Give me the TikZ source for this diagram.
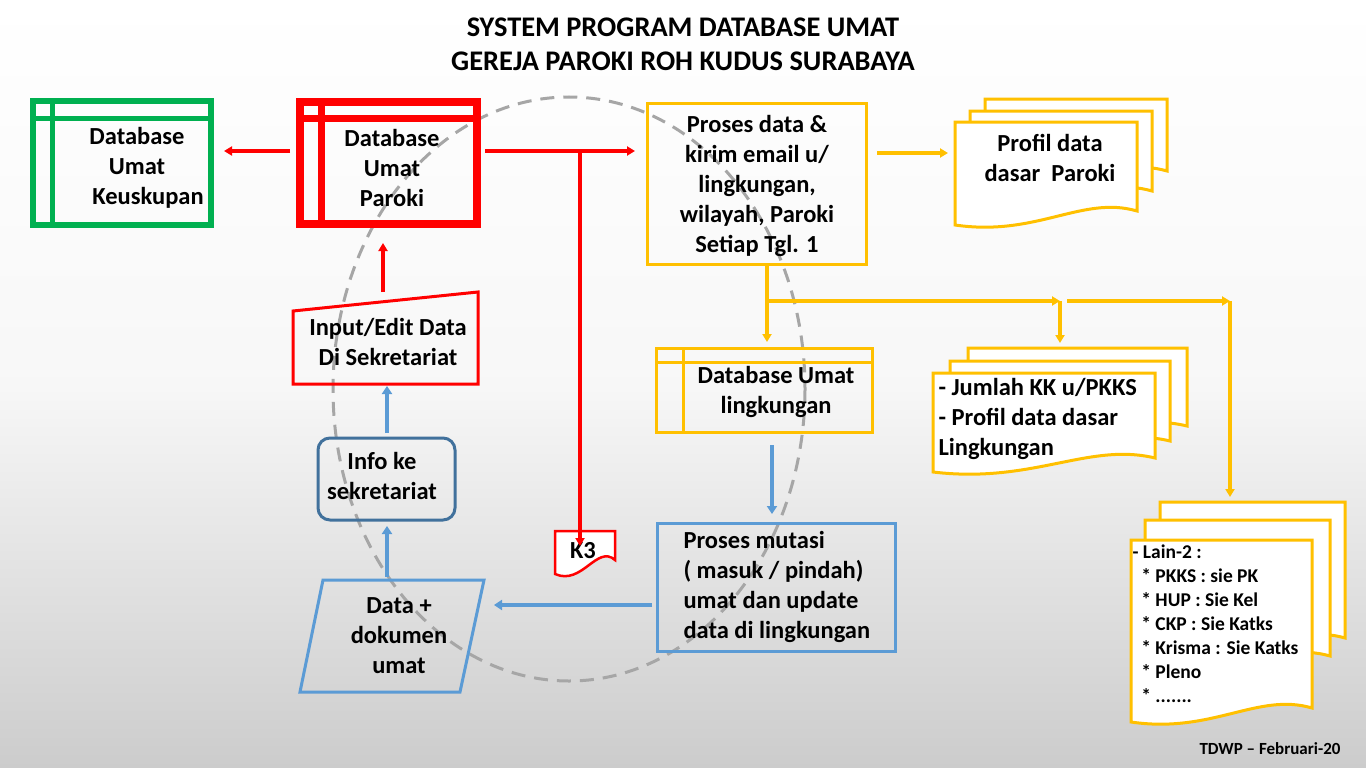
\documentclass[tikz,border=0pt]{standalone}
\usepackage{fontspec}
\setmainfont{Carlito}
\usetikzlibrary{arrows.meta}
\definecolor{cred}{HTML}{FF0000}
\definecolor{cgreen}{HTML}{00B050}
\definecolor{cyel}{HTML}{FFC000}
\definecolor{cblue}{HTML}{5B9BD5}
\definecolor{cdblue}{HTML}{41719C}
\newcommand\docpath[5]{\filldraw[#5,fill=white] ({#1},{#2}) -- ({#3},{#2}) -- ({#3},{#4-14}) .. controls ({#3-(#3-#1)*0.3},{#4-30}) and ({#1+(#3-#1)*0.45},{#4+12}) .. ({#1},{#4}) -- cycle;}
\begin{document}
\begin{tikzpicture}[x=1pt,y=-1pt,
 txt/.style={font=\bfseries\fontsize{24.5}{30}\selectfont,align=center,text=black},
 ltxt/.style={txt,align=left},
 rarr/.style={cred,line width=3.5pt,-{Triangle[length=8pt,width=9pt]}},
 yarr/.style={cyel,line width=3.5pt,-{Triangle[length=8pt,width=9pt]}},
 barr/.style={cblue,line width=4pt,-{Triangle[length=8pt,width=10pt]}},
 ybox/.style={cyel,line width=3pt},
 bbox/.style={line width=3pt}]
\useasboundingbox (0,0) rectangle (1366,768);
\begin{scope}[y=1pt]
\shade[top color=white,bottom color=white!80!black,middle color=white!97!black] (0,-768) rectangle (1366,0);
\end{scope}
\node[txt,font=\bfseries\fontsize{28.4}{34}\selectfont] (title) at (683,44) {SYSTEM PROGRAM DATABASE UMAT\\GEREJA PAROKI ROH KUDUS SURABAYA};
% dashed circle
\draw[gray!70,line width=3pt,dash pattern=on 14pt off 9pt] (569,389) ellipse [x radius=236,y radius=292];
% green
\draw[cgreen,line width=6pt] (33,101) rectangle (211,225);
\draw[cgreen,line width=5pt] (52,101) -- (52,225) (33,118) -- (211,118);
\node[txt] (keus) at (137,168) {Database\\Umat\\\hspace*{0.9em}Keuskupan};
% red
\draw[cred,line width=8pt] (300,102) rectangle (477,224);
\draw[cred,line width=7pt] (321,102) -- (321,224) (300,118) -- (477,118);
\node[txt] (paroki) at (392,168) {Database\\Umat\\Paroki};
% yellow proses
\draw[ybox] (647,103) rectangle (866,264);
\node[txt] (proses) at (757,186) {Proses data \&\\kirim email u/\\lingkungan,\\wilayah, Paroki\\Setiap Tgl. 1};
% profil multi doc
\docpath{985}{99}{1167}{185}{ybox}
\docpath{970}{111}{1152}{205}{ybox}
\docpath{955}{122}{1137}{225}{ybox}
\node[txt] (profil) at (1050,158) {Profil data\\dasar\ \ Paroki};
% database lingkungan
\draw[ybox] (656,348) rectangle (872,432);
\draw[ybox] (683,348) -- (683,432) (656,362) -- (872,362);
\node[txt] (dbl) at (776,392) {Database Umat\\lingkungan};
% KK multi doc
\docpath{968}{348}{1187}{440}{ybox}
\docpath{950}{361}{1170}{455}{ybox}
\docpath{933}{373}{1155}{472}{ybox}
\node[ltxt,anchor=west] (kk) at (935,419) {- Jumlah KK u/PKKS\\- Profil data dasar\\Lingkungan};
% lain-2 multi doc
\docpath{1160}{502}{1345}{652}{ybox}
\docpath{1145}{520}{1330}{670}{ybox}
\docpath{1131}{540}{1312}{722}{ybox}
\node[ltxt,anchor=north west,font=\bfseries\fontsize{19.5}{24}\selectfont] (lain) at (1129,541) {- Lain-2 :\\\ \ * PKKS : sie PK\\\ \ * HUP : Sie Kel\\\ \ * CKP : Sie Katks\\\ \ * Krisma : Sie Katks\\\ \ * Pleno\\\ \ * .......};
% proses mutasi
\draw[cblue,bbox] (657,523) rectangle (895,651);
\node[ltxt,anchor=west] (mutasi) at (680,587) {Proses mutasi\\( masuk / pindah)\\umat dan update\\data di lingkungan};
% data dokumen
\draw[cblue,bbox] (323,580) -- (484,580) -- (460,692) -- (300,692) -- cycle;
\node[txt] (data) at (399,636) {Data +\\dokumen\\umat};
% info
\draw[cdblue,bbox,rounded corners=12pt] (318,438) rectangle (455,520);
\node[txt] (info) at (382,476) {Info ke\\sekretariat};
% input
\draw[cred,bbox] (293,311) -- (478,292) -- (478,384) -- (293,384) -- cycle;
\node[txt] (input) at (388,342) {Input/Edit Data\\Di Sekretariat};
% K3
\docpath{555}{531}{615}{574}{cred,line width=2.5pt}
\node[txt] (k3) at (583,551) {K3};
% coordinates & arrows
\coordinate (a1) at (290,151); \coordinate (a2) at (224,151);
\draw[rarr] (a1) -- (a2);
\coordinate (b1) at (485,151); \coordinate (b2) at (635,151); \coordinate (b3) at (580,151); \coordinate (b4) at (580,546);
\draw[rarr] (b1) -- (b2);
\draw[rarr] (b3) -- (b4);
\coordinate (c1) at (383,292); \coordinate (c2) at (383,243);
\draw[rarr] (c1) -- (c2);
\coordinate (d1) at (877,153); \coordinate (d2) at (948,153);
\draw[yarr] (d1) -- (d2);
\coordinate (e1) at (767,266); \coordinate (e2) at (767,342); \coordinate (e3) at (767,301);
\coordinate (e4) at (1060,301); \coordinate (e5) at (1230,301); \coordinate (e6) at (1060,343); \coordinate (e7) at (1230,497);
\coordinate (e4a) at (1067,301);
\draw[yarr] (e1) -- (e2);
\draw[yarr] (e3) -- (e4);
\draw[yarr] (e4a) -- (e5);
\draw[yarr] (e4) -- (e6);
\draw[yarr] (e5) -- (e7);
\coordinate (f1) at (772,445); \coordinate (f2) at (772,514);
\draw[barr] (f1) -- (f2);
\coordinate (g1) at (652,605); \coordinate (g2) at (494,605);
\draw[barr] (g1) -- (g2);
\coordinate (h1) at (387,577); \coordinate (h2) at (387,526);
\draw[barr] (h1) -- (h2);
\coordinate (i1) at (387,433); \coordinate (i2) at (387,386);
\draw[barr] (i1) -- (i2);
\node[txt,font=\bfseries\fontsize{17}{18}\selectfont] (tdwp) at (1270,749) {TDWP -- Februari-20};
\end{tikzpicture}
\end{document}
